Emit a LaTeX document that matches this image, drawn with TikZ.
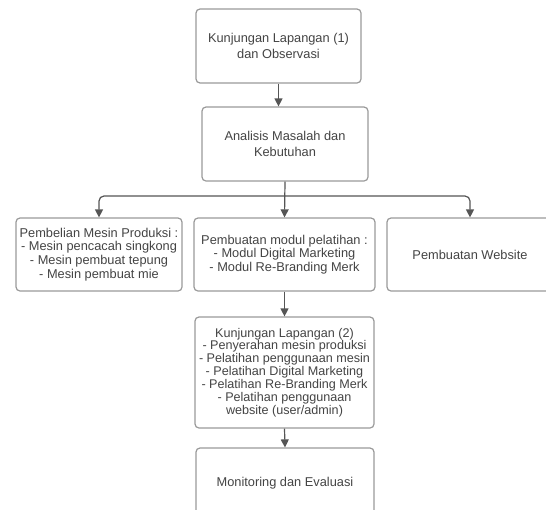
\documentclass[tikz,border=0pt]{standalone}
\usepackage{fontspec}
\setmainfont{Liberation Sans}
\usetikzlibrary{arrows.meta}
\definecolor{boxline}{HTML}{9A9A9A}
\definecolor{txt}{HTML}{444444}
\definecolor{conncol}{HTML}{555555}
\begin{document}
\begin{tikzpicture}[x=1pt,y=1pt,
  box/.style={draw=boxline, line width=1.2pt, rounded corners=4pt, fill=white,
    text=txt, align=center, inner sep=0pt, font=\fontsize{12.8}{15.5}\selectfont},
  listbox/.style={box, font=\fontsize{12.8}{13.8}\selectfont},
  tightbox/.style={box, font=\fontsize{12.6}{12.9}\selectfont},
  conn/.style={draw=conncol, line width=1.2pt, rounded corners=5pt,
    -{Triangle[width=8pt,length=8pt]}}]
\useasboundingbox (0,0) rectangle (546,-509);
\fill[white] (0,0) rectangle (546,-509);
\clip (0,0) rectangle (546,-509);
\node[box, minimum width=165pt, minimum height=74pt] (k1) at (278.5,-46)
  {Kunjungan Lapangan (1)\\dan Observasi};
\node[box, minimum width=166pt, minimum height=74pt] (am) at (285,-144)
  {Analisis Masalah dan\\Kebutuhan};
\node[listbox, minimum width=166pt, minimum height=73pt] (pm) at (99,-254.5)
  {Pembelian Mesin Produksi :\\- Mesin pencacah singkong\\- Mesin pembuat tepung\\- Mesin pembuat mie};
\node[listbox, minimum width=181pt, minimum height=73pt] (pl) at (284.5,-254.5)
  {Pembuatan modul pelatihan :\\- Modul Digital Marketing\\- Modul Re-Branding Merk};
\node[box, minimum width=166pt, minimum height=73pt] (pw) at (470,-254.5)
  {Pembuatan Website};
\node[tightbox, minimum width=179pt, minimum height=111pt] (k2) at (284.5,-372.5)
  {Kunjungan Lapangan (2)\\- Penyerahan mesin produksi\\- Pelatihan penggunaan mesin\\- Pelatihan Digital Marketing\\- Pelatihan Re-Branding Merk\\- Pelatihan penggunaan\\website (user/admin)};
\node[box, minimum width=178pt, minimum height=70pt] (me) at (285,-483)
  {Monitoring dan Evaluasi};
\coordinate (split) at (285,-196);
\draw[conn] (k1.south) -- (k1.south |- am.north);
\draw[conn] (am.south) -- (pl.north);
\draw[conn] (split) -| (pm.north);
\draw[conn] (split) -| (pw.north);
\draw[conn] (pl.south) -- (k2.north);
\draw[conn] (k2.south) -- (me.north);
\end{tikzpicture}
\end{document}
